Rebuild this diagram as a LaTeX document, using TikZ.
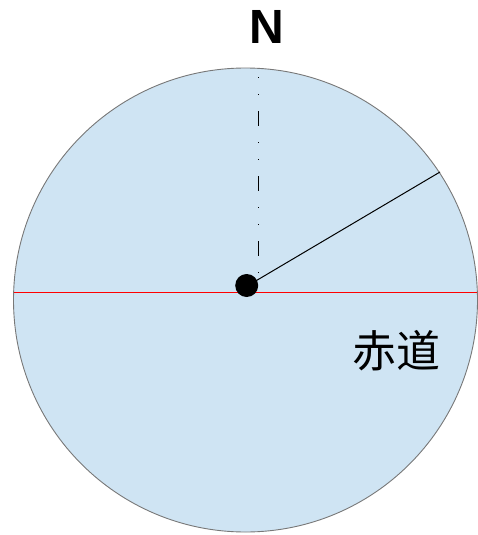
\documentclass[tikz,border=0pt]{standalone}
\usepackage{fontspec}
\setmainfont{Liberation Sans}
\newfontfamily\cjk{Noto Sans CJK SC}
\definecolor{globefill}{RGB}{207,228,243}
\definecolor{globeedge}{RGB}{120,120,120}
\begin{document}
\begin{tikzpicture}[x=1pt,y=-1pt,
  globe/.style={draw=globeedge,line width=0.9pt,fill=globefill},
  equator/.style={draw=red,line width=1pt},
  axisline/.style={draw=black,line width=1.3pt,dash pattern=on 1pt off 16pt on 1pt off 16pt on 15pt off 16pt},
  ray/.style={draw=black,line width=1pt},
  lbl/.style={inner sep=0pt,outer sep=0pt}]
\useasboundingbox (0,0) rectangle (477,535);
\coordinate (C) at (245.5,300);
\draw[globe] (C) circle (232);
\coordinate (EL) at (13.5,292);
\coordinate (ER) at (477,292);
\draw[equator] (EL) -- (ER);
\coordinate (AT) at (258.3,77);
\coordinate (AB) at (258.3,281);
\draw[axisline] (AT) -- (AB);
\coordinate (RS) at (256.5,280.5);
\coordinate (RE) at (440,172);
\draw[ray] (RS) -- (RE);
\fill[black] (246.7,285.5) circle (11.5);
\node[lbl,font=\bfseries\fontsize{48}{48}\selectfont] (N) at (267,26.5) {N};
\node[lbl,font=\cjk\fontsize{44}{44}\selectfont] (eq) at (396.5,351) {赤道};
\end{tikzpicture}
\end{document}
